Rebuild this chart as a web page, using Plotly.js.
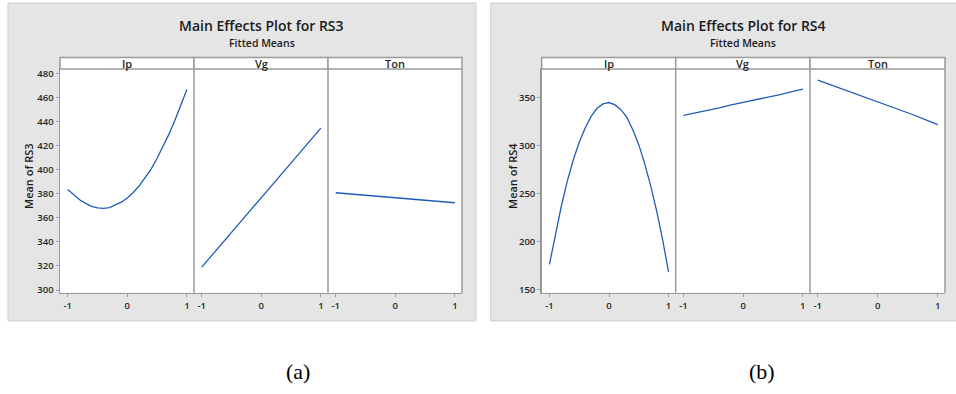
<!DOCTYPE html>
<html>
<head>
<meta charset="utf-8">
<script src="https://cdn.plot.ly/plotly-3.0.1.min.js"></script>
<style>html,body{margin:0;padding:0;background:#fff}#plot{width:956px;height:394px}</style>
</head>
<body>
<div id="plot"></div>
<script>
// Factor levels (coded)
const levelsFine = [-1, -0.9, -0.8, -0.7, -0.6, -0.5, -0.4, -0.3, -0.2, -0.1, 0, 0.1, 0.2, 0.3, 0.4, 0.5, 0.6, 0.7, 0.8, 0.9, 1];
const levels = [-1, -0.8, -0.6, -0.4, -0.2, 0, 0.2, 0.4, 0.6, 0.8, 1];
const factors = ["Ip", "Vg", "Ton"];
const xTickVals = [-1, 0, 1];
const xTickText = ["-1", "0", "1"];

// RS3 fitted means
const rs3_Ip  = [383.5, 379.0, 375.0, 372.0, 369.5, 368.2, 367.8, 368.5, 370.5, 373.0, 376.5, 381.0, 386.5, 393.0, 400.5, 409.5, 419.0, 429.5, 441.0, 453.5, 466.5];
const rs3_Vg  = [319.0, 330.5, 342.0, 353.5, 365.0, 376.5, 388.0, 399.5, 411.0, 422.5, 434.5];
const rs3_Ton = [380.8, 380.0, 379.2, 378.5, 377.6, 377.0, 376.2, 375.2, 374.3, 373.4, 372.5];
const rs3_yTicks = [300, 320, 340, 360, 380, 400, 420, 440, 460, 480];

// RS4 fitted means
const rs4_Ip  = [176.0, 208.0, 237.0, 263.0, 285.0, 303.5, 318.5, 330.5, 339.0, 343.5, 345.0, 342.5, 337.5, 329.5, 316.5, 301.0, 281.0, 258.0, 232.0, 202.0, 168.0];
const rs4_Vg  = [331.5, 334.0, 337.0, 339.5, 342.5, 345.0, 348.0, 350.5, 353.0, 356.0, 359.0];
const rs4_Ton = [368.5, 364.0, 359.5, 355.0, 350.5, 346.0, 341.0, 336.5, 332.0, 327.0, 322.0];
const rs4_yTicks = [150, 200, 250, 300, 350];

const chartTitles = ["Main Effects Plot for RS3", "Main Effects Plot for RS4"];
const subTitle = "Fitted Means";
const yTitles = ["Mean of RS3", "Mean of RS4"];
const captions = ["(a)", "(b)"];

const W = 956, H = 394;
const px = v => v / W;
const py = v => 1 - v / H;

const lineColor = "#1f5cb8";
const axisGray = "#9a9a9a";
const textColor = "#262626";
const uiFont = "Open Sans, Noto Sans, sans-serif";

const panelsX = [[60, 194], [194, 328], [328, 462], [541.7, 675.7], [675.7, 810], [810, 945]];
const plotTop = 69, plotBot = 292.7, stripTop = 57.5;

const series = [
  [levelsFine, rs3_Ip], [levels, rs3_Vg], [levels, rs3_Ton],
  [levelsFine, rs4_Ip], [levels, rs4_Vg], [levels, rs4_Ton]
];
const data = series.map((s, i) => ({
  x: s[0], y: s[1], type: "scatter", mode: "lines",
  line: {color: lineColor, width: 1.3},
  xaxis: "x" + (i === 0 ? "" : i + 1),
  yaxis: i < 3 ? "y" : "y2",
  hoverinfo: "skip", showlegend: false
}));

const layout = {
  width: W, height: H,
  margin: {l: 0, r: 0, t: 0, b: 0},
  paper_bgcolor: "#ffffff", plot_bgcolor: "#ffffff",
  showlegend: false,
  font: {family: uiFont, color: textColor},
  shapes: [], annotations: []
};

const tickFont = {size: 9.5, color: textColor, family: uiFont, weight: 600};

panelsX.forEach((p, i) => {
  const key = "xaxis" + (i === 0 ? "" : i + 1);
  layout[key] = {
    domain: [px(p[0]), px(p[1])],
    range: [-1.13, 1.12],
    anchor: i < 3 ? "y" : "y2",
    tickvals: xTickVals, ticktext: xTickText,
    ticks: "outside", ticklen: 3, tickcolor: axisGray, tickwidth: 1,
    tickfont: tickFont,
    showgrid: false, zeroline: false,
    showline: true, mirror: true, linecolor: axisGray, linewidth: 1.5,
    fixedrange: true
  };
});

const yCommon = {
  domain: [py(plotBot), py(plotTop)],
  ticks: "outside", ticklen: 3, tickcolor: axisGray, tickwidth: 1,
  tickfont: tickFont,
  showgrid: false, zeroline: false,
  showline: true, mirror: false, linecolor: axisGray, linewidth: 1.5,
  fixedrange: true
};
layout.yaxis = Object.assign({}, yCommon, {anchor: "x", range: [297.8, 483.6], tickvals: rs3_yTicks});
layout.yaxis2 = Object.assign({}, yCommon, {anchor: "x4", range: [146.5, 380], tickvals: rs4_yTicks});

// grey panel backgrounds
const boxes = [[8, 476], [490.7, 960]];
boxes.forEach(b => {
  layout.shapes.push({type: "rect", xref: "paper", yref: "paper", layer: "below",
    x0: px(b[0]), x1: px(b[1]), y0: py(321), y1: py(3),
    fillcolor: "#e5e5e5", line: {color: "#cfcfcf", width: 1}});
});

panelsX.forEach((p, i) => {
  // white plot area
  layout.shapes.push({type: "rect", xref: "paper", yref: "paper", layer: "below",
    x0: px(p[0]), x1: px(p[1]), y0: py(plotBot), y1: py(plotTop),
    fillcolor: "#ffffff", line: {width: 0}});
  // right border of each panel
  layout.shapes.push({type: "line", xref: "paper", yref: "paper",
    x0: px(p[1]), x1: px(p[1]), y0: py(plotBot), y1: py(plotTop),
    line: {color: axisGray, width: 1.5}, layer: "above"});
  // strip header
  layout.shapes.push({type: "rect", xref: "paper", yref: "paper",
    x0: px(p[0]), x1: px(p[1]), y0: py(plotTop), y1: py(stripTop),
    fillcolor: "#ffffff", line: {color: axisGray, width: 1.5}, layer: "above"});
  layout.annotations.push({xref: "paper", yref: "paper",
    x: px((p[0] + p[1]) / 2), y: py((plotTop + stripTop) / 2 + 0.5),
    text: factors[i % 3], showarrow: false, xanchor: "center", yanchor: "middle",
    font: {size: 11, color: textColor, family: uiFont, weight: 600}});
});

const centers = [261.7, 743.3];
const yTitleX = [28, 512];
const capX = [298, 762];
[0, 1].forEach(k => {
  layout.annotations.push({xref: "paper", yref: "paper", x: px(centers[k]), y: py(25),
    text: chartTitles[k], showarrow: false, xanchor: "center", yanchor: "middle",
    font: {size: 14, color: "#1a1a1a", family: uiFont, weight: 600}});
  layout.annotations.push({xref: "paper", yref: "paper", x: px(centers[k]), y: py(42.5),
    text: subTitle, showarrow: false, xanchor: "center", yanchor: "middle",
    font: {size: 10.5, color: "#1a1a1a", family: uiFont, weight: 600}});
  layout.annotations.push({xref: "paper", yref: "paper", x: px(yTitleX[k]), y: py(176),
    text: yTitles[k], showarrow: false, xanchor: "center", yanchor: "middle", textangle: -90,
    font: {size: 11, color: "#1a1a1a", family: uiFont, weight: 600}});
  layout.annotations.push({xref: "paper", yref: "paper", x: px(capX[k]), y: py(371),
    text: captions[k], showarrow: false, xanchor: "center", yanchor: "middle",
    font: {size: 22, color: "#000000", family: "Liberation Serif, Times New Roman, serif"}});
});

Plotly.newPlot("plot", data, layout, {staticPlot: true, displayModeBar: false});
</script>
</body>
</html>
